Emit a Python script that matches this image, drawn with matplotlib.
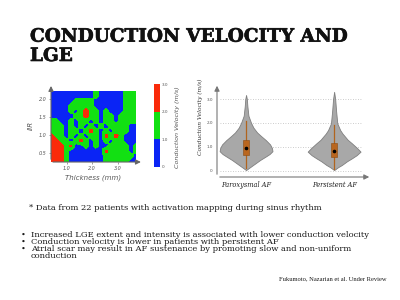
import numpy as np
import matplotlib
matplotlib.use("Agg")
import matplotlib.pyplot as plt
import matplotlib.patheffects as pe
from matplotlib.colors import ListedColormap, BoundaryNorm

# ---------------- data ----------------
thickness = [0.39, 0.58, 0.78, 0.97, 1.17, 1.36, 1.56, 1.75, 1.95, 2.14,
             2.33, 2.53, 2.72, 2.92, 3.11, 3.31, 3.50, 3.70]
iir = [2.23, 2.09, 1.95, 1.81, 1.67, 1.53, 1.39, 1.25, 1.11, 0.97,
       0.83, 0.69, 0.55, 0.41, 0.24]
# conduction velocity class per cell (0: <1, 1: 1-2, 2: 2-3 m/s), rows from top (high IIR)
cv_class = [
    [0,0,0,0,0,0,0,0,0,1,0,0,0,0,0,1,1,1],
    [0,0,0,0,0,0,0,0,0,1,0,0,0,0,0,1,1,1],
    [0,0,0,0,0,1,1,1,1,0,0,0,0,0,0,1,1,1],
    [0,0,0,0,1,1,1,1,1,0,0,0,0,0,0,1,1,1],
    [0,0,0,0,1,0,1,2,1,1,0,1,0,0,0,1,1,1],
    [0,0,0,0,0,1,1,2,1,1,0,1,1,0,1,1,1,1],
    [1,1,0,0,1,0,1,1,0,1,0,1,1,0,1,1,1,1],
    [1,1,1,0,1,0,1,0,1,0,1,0,1,1,1,1,0,0],
    [1,1,1,0,1,1,0,1,2,1,0,1,0,1,1,1,0,0],
    [2,1,1,0,1,0,1,0,1,1,0,2,1,2,1,0,0,0],
    [2,2,1,1,0,1,2,1,0,1,0,1,0,1,1,0,0,0],
    [2,2,2,1,2,0,0,1,0,1,0,0,1,1,1,1,0,1],
    [2,2,2,1,0,0,0,0,0,0,0,2,1,1,1,1,0,1],
    [2,2,2,1,0,0,0,0,0,0,0,1,1,1,1,1,1,0],
    [2,2,2,1,0,0,0,0,0,0,0,1,1,1,1,1,0,0],
]
cv_levels = [0, 1, 2, 3]
cbar_labels = ["0", "1.0", "2.0", "3.0"]

groups = ["Paroxysmal AF", "Persistent AF"]
parox_cv = [0.03, 0.15, 0.30, 0.45, 0.60, 0.70, 0.82, 0.95, 1.10, 1.28, 1.45,
            1.60, 1.80, 2.00, 2.30, 2.70, 3.00, 3.17]
parox_density = [0, 0.15, 0.34, 0.53, 0.75, 0.89, 1.0, 0.98, 0.91, 0.75, 0.57,
                 0.42, 0.28, 0.19, 0.09, 0.05, 0.03, 0]
pers_cv = [0.03, 0.15, 0.24, 0.40, 0.52, 0.65, 0.80, 0.95, 1.15, 1.30, 1.42,
           1.55, 1.70, 1.98, 2.50, 3.00, 3.30]
pers_density = [0, 0.15, 0.29, 0.49, 0.67, 0.85, 1.0, 0.87, 0.67, 0.51, 0.42,
                0.32, 0.23, 0.12, 0.075, 0.04, 0]
box_q1 = [0.66, 0.59]
box_q3 = [1.28, 1.15]
box_median = [0.94, 0.82]
whisker_lo = [0.10, 0.08]
whisker_hi = [2.10, 1.91]
violin_yticks = [0, 1, 2, 3]
violin_ylabels = ["0", "1.0", "2.0", "3.0"]

# ---------------- figure ----------------
W, H = 400, 300
fig = plt.figure(figsize=(4, 3), dpi=100)
fig.patch.set_facecolor("white")

def fx(px):
    return px / W

def fy(py):
    return 1 - py / H

# title
title_kw = dict(fontsize=13.3, fontweight="bold", family="DejaVu Serif", color="#111111",
                va="baseline",
                path_effects=[pe.withStroke(linewidth=0.45, foreground="#111111")])
fig.text(fx(30), fy(41.7), "CONDUCTION VELOCITY AND", **title_kw)
fig.text(fx(30), fy(61), "LGE", **title_kw)

# ---------------- map ----------------
ax = fig.add_axes([fx(51), fy(162), (136 - 51) / W, (162 - 91) / H])
Z = np.array(cv_class, dtype=float)[::-1] + 0.5
xs = np.array(thickness)
ys = np.array(iir)[::-1]

xf = np.linspace(xs.min(), xs.max(), 200)
yf = np.linspace(ys.min(), ys.max(), 170)
Zx = np.array([np.interp(xf, xs, row) for row in Z])
Zs = np.array([np.interp(yf, ys, col) for col in Zx.T]).T

def blur(a, s):
    r = int(3 * s)
    k = np.exp(-0.5 * (np.arange(-r, r + 1) / s) ** 2)
    k /= k.sum()
    ap = np.pad(a, r, mode="edge")
    ap = np.apply_along_axis(lambda v: np.convolve(v, k, mode="valid"), 0, ap)
    ap = np.apply_along_axis(lambda v: np.convolve(v, k, mode="valid"), 1, ap)
    return ap

Zs = blur(Zs, 2.0)
map_colors = ["#0a24f5", "#12e012", "#fa2a0a"]
cmap = ListedColormap(map_colors)
norm = BoundaryNorm(cv_levels, cmap.N)
cf = ax.contourf(xf, yf, Zs, levels=cv_levels, cmap=cmap, norm=norm)
ax.set_xlim(xs.min(), xs.max())
ax.set_ylim(ys.min(), ys.max())
for s in ax.spines.values():
    s.set_visible(False)
ax.set_xticks([1.0, 2.0, 3.0])
ax.set_xticklabels(["1.0", "2.0", "3.0"])
ax.set_yticks([0.5, 1.0, 1.5, 2.0])
ax.set_yticklabels(["0.5", "1.0", "1.5", "2.0"])
ax.tick_params(labelsize=3.5, length=1.5, width=0.4, pad=1.5, colors="#555555")
for lab in ax.get_xticklabels() + ax.get_yticklabels():
    lab.set_fontstyle("italic")
arrow = dict(arrowstyle="-|>,head_length=0.3,head_width=0.15", color="#666666", lw=0.8)
ax.annotate("", xy=(0, 1.11), xytext=(0, 0), xycoords="axes fraction", arrowprops=arrow)
ax.annotate("", xy=(1.09, 0), xytext=(-0.01, 0), xycoords="axes fraction", arrowprops=arrow)
fig.text(fx(93), fy(178), "Thickness (mm)", fontsize=5, style="italic", color="#555555",
         ha="center", va="center")
fig.text(fx(31), fy(125), "IIR", fontsize=5, style="italic", color="#555555",
         ha="center", va="center", rotation=90)

# colorbar
cax = fig.add_axes([fx(154), fy(167), 6 / W, (167 - 84) / H])
cb = fig.colorbar(cf, cax=cax, ticks=cv_levels)
cb.ax.set_yticklabels(cbar_labels)
cb.outline.set_visible(False)
cax.tick_params(labelsize=3, length=0, pad=1.5, colors="#555555")
fig.text(fx(177), fy(127), "Conduction Velocity (m/s)", fontsize=4.6, style="italic",
         color="#555555", ha="center", va="center", rotation=90)

# ---------------- violin ----------------
vx = fig.add_axes([fx(217), fy(177), (372 - 217) / W, (177 - 83) / H])
vx.set_xlim(-0.33, 1.43)
vx.set_ylim(-0.26, 3.67)
for s in vx.spines.values():
    s.set_visible(False)
vx.hlines(violin_yticks, -0.3, 1.30, colors="#bbbbbb", linestyles=(0, (1, 2)), lw=0.6)
half = 0.30
for i, (yy, dd) in enumerate([(parox_cv, parox_density), (pers_cv, pers_density)]):
    yy = np.array(yy)
    dd = np.array(dd) * half
    vx.fill_betweenx(yy, i - dd, i + dd, facecolor="#a8a8a8", edgecolor="#7f7f7f", lw=0.6, zorder=2)
    vx.plot([i, i], [whisker_lo[i], whisker_hi[i]], color="#b0641e", lw=0.9, zorder=3)
    vx.bar(i, box_q3[i] - box_q1[i], bottom=box_q1[i], width=0.07, color="#b9661f",
           edgecolor="#8a4a12", lw=0.4, zorder=4)
    vx.plot(i, box_median[i], "o", color="black", ms=1.6, zorder=5)
vx.set_yticks(violin_yticks)
vx.set_yticklabels(violin_ylabels)
vx.set_xticks([0, 1])
vx.set_xticklabels(groups)
vx.tick_params(axis="y", labelsize=3, length=0, pad=3, colors="#555555")
vx.tick_params(axis="x", labelsize=4.8, length=0, pad=3, colors="#222222")
for lab in vx.get_xticklabels():
    lab.set_family("DejaVu Serif")
    lab.set_fontstyle("italic")
arrow2 = dict(arrowstyle="-|>,head_length=0.3,head_width=0.15", color="#777777", lw=0.8)
vx.annotate("", xy=(0, 1.0), xytext=(0, 0), xycoords="axes fraction", arrowprops=arrow2)
vx.annotate("", xy=(1.0, 0), xytext=(0, 0), xycoords="axes fraction", arrowprops=arrow2)
fig.text(fx(200), fy(117), "Conduction Velocity (m/s)", fontsize=4.2, style="italic",
         family="DejaVu Serif", color="#333333", ha="center", va="center", rotation=90)

# ---------------- body text ----------------
body_kw = dict(fontsize=6.0, family="DejaVu Serif", color="#1a1a1a", va="baseline")
fig.text(fx(29), fy(210), "* Data from 22 patients with activation mapping during sinus rhythm", **body_kw)
bullets = [
    (236.7, "Increased LGE extent and intensity is associated with lower conduction velocity"),
    (244.0, "Conduction velocity is lower in patients with persistent AF"),
    (251.3, "Atrial scar may result in AF sustenance by promoting slow and non-uniform"),
]
for yb, t in bullets:
    fig.text(fx(21), fy(yb), "\u2022", **body_kw)
    fig.text(fx(31), fy(yb), t, **body_kw)
fig.text(fx(31), fy(258.3), "conduction", **body_kw)
cite_kw = dict(body_kw)
cite_kw["fontsize"] = 4.7
cite_kw["family"] = "Liberation Serif"
fig.text(fx(387), fy(280.7), "Fukumoto, Nazarian et al. Under Review", ha="right", **cite_kw)

fig.savefig("out.png", dpi=100, facecolor="white")
